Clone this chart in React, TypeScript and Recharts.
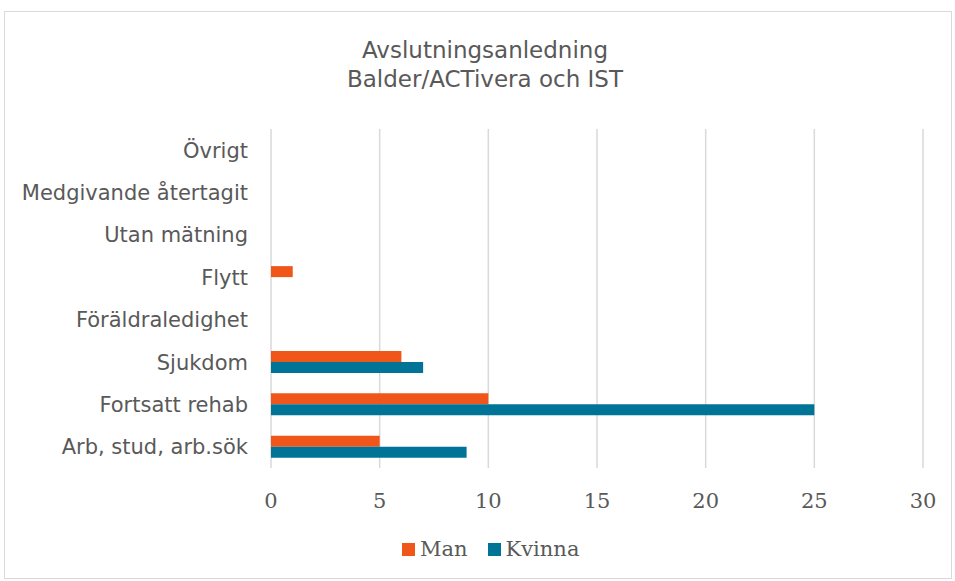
import React from 'react';
import {
  BarChart, Bar, XAxis, YAxis, CartesianGrid,
} from 'recharts';

const categories = [
  'Övrigt',
  'Medgivande återtagit',
  'Utan mätning',
  'Flytt',
  'Föräldraledighet',
  'Sjukdom',
  'Fortsatt rehab',
  'Arb, stud, arb.sök',
];
const man = [0, 0, 0, 1, 0, 6, 10, 5];
const kvinna = [0, 0, 0, 0, 0, 7, 25, 9];
const xTicks = [0, 5, 10, 15, 20, 25, 30];
const seriesNames = ['Man', 'Kvinna'];

const MAN_COLOR = '#F0561A';
const KVINNA_COLOR = '#007496';
const seriesColors = [MAN_COLOR, KVINNA_COLOR];
const TEXT = '#595959';

const data = categories.map((name, i) => ({ name, Man: man[i], Kvinna: kvinna[i] }));

export default function App() {
  return (
    <div style={{ position: 'absolute', left: 0, top: 0, width: 955, height: 581, background: '#fff' }}>
      <div style={{
        position: 'absolute', left: 4, top: 11, width: 946, height: 566,
        border: '1px solid #d9d9d9',
      }} />
      <div style={{
        position: 'absolute', left: 0, top: 36, width: 970, textAlign: 'center',
        fontFamily: '"DejaVu Sans", sans-serif', fontSize: 23,
        color: TEXT, lineHeight: '29px',
      }}>
        Avslutningsanledning<br />Balder/ACTivera och IST
      </div>
      <div style={{ position: 'absolute', left: 0, top: 0 }}>
        <BarChart
          width={955}
          height={581}
          data={data}
          layout="vertical"
          margin={{ top: 129, right: 32, bottom: 83, left: 0 }}
          barSize={11}
          barGap={0}
        >
          <CartesianGrid horizontal={false} stroke="#d9d9d9" strokeWidth={1.5} />
          <XAxis
            type="number"
            domain={[0, 30]}
            ticks={xTicks}
            height={30}
            axisLine={false}
            tickLine={false}
            tickSize={0}
            tickMargin={25}
            tick={{ fill: TEXT, fontSize: 21, fontFamily: '"DejaVu Serif", serif' }}
          />
          <YAxis
            type="category"
            dataKey="name"
            width={271}
            axisLine={false}
            tickLine={false}
            tickSize={0}
            tickMargin={23}
            interval={0}
            tick={{ fill: TEXT, fontSize: 21, fontFamily: '"DejaVu Sans", sans-serif' }}
          />
          <Bar dataKey="Man" fill={MAN_COLOR} isAnimationActive={false} />
          <Bar dataKey="Kvinna" fill={KVINNA_COLOR} isAnimationActive={false} />
        </BarChart>
      </div>
      <div style={{
        position: 'absolute', left: 402, top: 536, display: 'flex', alignItems: 'center', height: 27,
      }}>
        {seriesNames.map((n, i) => (
          <div key={n} style={{ display: 'flex', alignItems: 'center', marginRight: 20 }}>
            <span style={{ display: 'inline-block', width: 13, height: 13, background: seriesColors[i], marginRight: 5 }} />
            <span style={{ fontFamily: '"DejaVu Serif", serif', fontSize: 21, color: TEXT, lineHeight: '27px' }}>{n}</span>
          </div>
        ))}
      </div>
    </div>
  );
}
